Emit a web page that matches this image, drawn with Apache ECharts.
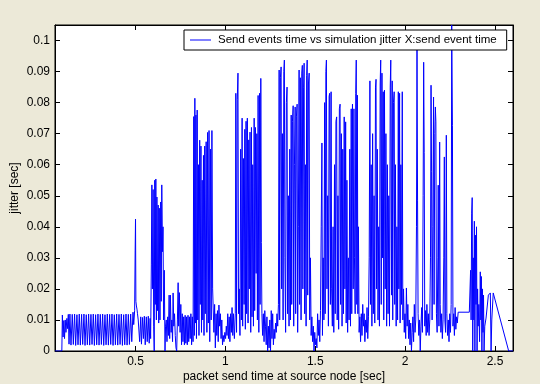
<!DOCTYPE html>
<html lang="en">
<head>
<meta charset="UTF-8">
<title>jitter</title>
<script src="https://cdn.jsdelivr.net/npm/echarts@6/dist/echarts.min.js"></script>
<style>
  html, body { margin: 0; padding: 0; background: #ece9d8; }
  #main { width: 540px; height: 384px; }
</style>
</head>
<body>
<div id="main"></div>
<script>
// tick labels
var xTicks = [0.5, 1, 1.5, 2, 2.5];
var yTicks = [0, 0.01, 0.02, 0.03, 0.04, 0.05, 0.06, 0.07, 0.08, 0.09, 0.1];
var seriesName = 'Send events time vs simulation jitter X:send event time';

// [send time, jitter], one stretch at a time
var idle = [[0.052, 0], [0.090, 0]];
var rampUp = [
  [0.093, 0.0116], [0.097, 0.0045], [0.101, 0.0098], [0.105, 0.0040], [0.109, 0.0100],
  [0.113, 0.0060], [0.118, 0.0105], [0.122, 0.0072], [0.126, 0.0118], [0.130, 0.0022]
];
var steady = [
  [0.135, 0.0119], [0.141, 0.0019], [0.148, 0.0118], [0.154, 0.0021], [0.161, 0.0119],
  [0.167, 0.0018], [0.174, 0.0117], [0.180, 0.0020], [0.187, 0.0119], [0.193, 0.0019],
  [0.200, 0.0118], [0.206, 0.0021], [0.213, 0.0119], [0.219, 0.0018], [0.226, 0.0117],
  [0.232, 0.0020], [0.239, 0.0119], [0.245, 0.0019], [0.252, 0.0118], [0.258, 0.0021],
  [0.265, 0.0119], [0.271, 0.0018], [0.278, 0.0117], [0.284, 0.0020], [0.291, 0.0119],
  [0.297, 0.0019], [0.304, 0.0118], [0.310, 0.0021], [0.317, 0.0119], [0.323, 0.0018],
  [0.330, 0.0117], [0.336, 0.0020], [0.343, 0.0119], [0.349, 0.0019], [0.356, 0.0118],
  [0.362, 0.0021], [0.369, 0.0119], [0.375, 0.0018], [0.382, 0.0117], [0.388, 0.0020],
  [0.395, 0.0119], [0.401, 0.0019], [0.408, 0.0118], [0.414, 0.0021], [0.421, 0.0119],
  [0.427, 0.0018], [0.434, 0.0117], [0.440, 0.0020], [0.447, 0.0119], [0.453, 0.0019],
  [0.460, 0.0118], [0.466, 0.0021], [0.473, 0.0119], [0.479, 0.0030], [0.486, 0.0125],
  [0.490, 0.0085]
];
var firstSpike = [
  [0.495, 0.0130], [0.498, 0.0325], [0.500, 0.0425], [0.502, 0.0160], [0.505, 0.0145],
  [0.508, 0.0135], [0.511, 0.0120], [0.515, 0.0100], [0.519, 0.0105], [0.523, 0.0030],
  [0.529, 0.0110], [0.533, 0.0022], [0.539, 0.0108], [0.544, 0.0040], [0.549, 0.0112],
  [0.554, 0.0020], [0.560, 0.0110], [0.565, 0.0030], [0.571, 0.0112], [0.576, 0.0025],
  [0.581, 0.0105]
];
var burstA = [
  [0.584, 0.0040], [0.588, 0.0280], [0.591, 0.0535], [0.594, 0.0200], [0.598, 0.0520],
  [0.601, 0.0080], [0.604, 0.0000], [0.607, 0.0550], [0.610, 0.0150], [0.613, 0.0554],
  [0.616, 0.0100], [0.619, 0.0496], [0.622, 0.0130], [0.626, 0.0470], [0.629, 0.0090],
  [0.632, 0.0460], [0.636, 0.0100], [0.640, 0.0480], [0.643, 0.0160], [0.646, 0.0535],
  [0.650, 0.0320], [0.653, 0.0400], [0.656, 0.0100], [0.660, 0.0260], [0.664, 0.0000],
  [0.667, 0.0080]
];
var lullA = [
  [0.671, 0.0100], [0.675, 0.0030], [0.679, 0.0110], [0.683, 0.0050], [0.687, 0.0180],
  [0.690, 0.0040], [0.694, 0.0180], [0.698, 0.0060], [0.702, 0.0100], [0.706, 0.0030],
  [0.709, 0.0187], [0.713, 0.0080], [0.717, 0.0120], [0.721, 0.0050], [0.725, 0.0010],
  [0.729, 0.0000], [0.733, 0.0100], [0.737, 0.0220], [0.740, 0.0080], [0.744, 0.0188],
  [0.748, 0.0060], [0.752, 0.0150], [0.756, 0.0020], [0.760, 0.0120], [0.764, 0.0030],
  [0.768, 0.0110], [0.772, 0.0020], [0.776, 0.0115], [0.780, 0.0025], [0.784, 0.0110],
  [0.788, 0.0020], [0.792, 0.0115], [0.796, 0.0030], [0.800, 0.0110], [0.804, 0.0040],
  [0.808, 0.0120], [0.812, 0.0020]
];
var burstB = [
  [0.816, 0.0110], [0.820, 0.0030], [0.824, 0.0755], [0.827, 0.0050], [0.830, 0.0814],
  [0.833, 0.0090], [0.836, 0.0760], [0.839, 0.0040], [0.843, 0.0776], [0.846, 0.0100],
  [0.850, 0.0600], [0.853, 0.0050], [0.857, 0.0679], [0.860, 0.0150], [0.864, 0.0660],
  [0.867, 0.0060], [0.871, 0.0550], [0.874, 0.0100], [0.878, 0.0630], [0.881, 0.0050],
  [0.885, 0.0660], [0.888, 0.0120], [0.893, 0.0674], [0.897, 0.0060], [0.901, 0.0704],
  [0.905, 0.0090], [0.909, 0.0710], [0.913, 0.0030], [0.917, 0.0650], [0.921, 0.0100],
  [0.925, 0.0710], [0.929, 0.0200]
];
var lullB = [
  [0.932, 0.0200], [0.936, 0.0060], [0.940, 0.0150], [0.944, 0.0010], [0.948, 0.0120],
  [0.952, 0.0050], [0.956, 0.0130], [0.960, 0.0030], [0.964, 0.0148], [0.968, 0.0080],
  [0.972, 0.0120], [0.976, 0.0040], [0.980, 0.0100], [0.984, 0.0020], [0.988, 0.0050],
  [0.992, 0.0030], [0.997, 0.0060], [1.001, 0.0040], [1.005, 0.0080], [1.009, 0.0050],
  [1.013, 0.0120], [1.017, 0.0040], [1.021, 0.0110], [1.025, 0.0030], [1.029, 0.0120],
  [1.033, 0.0060], [1.037, 0.0140], [1.041, 0.0050], [1.045, 0.0120]
];
var burstC = [
  [1.050, 0.0040], [1.055, 0.0120], [1.058, 0.0830], [1.062, 0.0060], [1.066, 0.0810],
  [1.070, 0.0895], [1.073, 0.0120], [1.077, 0.0200], [1.081, 0.0050], [1.085, 0.0650],
  [1.089, 0.0100], [1.093, 0.0750], [1.096, 0.0080], [1.100, 0.0620], [1.104, 0.0150],
  [1.108, 0.0714], [1.111, 0.0070], [1.115, 0.0740], [1.118, 0.0120], [1.122, 0.0750],
  [1.126, 0.0090], [1.130, 0.0680], [1.133, 0.0200], [1.137, 0.0705], [1.141, 0.0060],
  [1.145, 0.0720], [1.148, 0.0110], [1.152, 0.0600], [1.156, 0.0080], [1.160, 0.0750],
  [1.163, 0.0130], [1.167, 0.0720], [1.171, 0.0250], [1.175, 0.0700], [1.178, 0.0100],
  [1.182, 0.0823], [1.186, 0.0060], [1.190, 0.0830], [1.193, 0.0150], [1.197, 0.0878],
  [1.200, 0.0350], [1.203, 0.0120]
];
var lullC = [
  [1.207, 0.0050], [1.211, 0.0120], [1.215, 0.0030], [1.219, 0.0130], [1.223, 0.0080],
  [1.227, 0.0020], [1.231, 0.0110], [1.235, 0.0000], [1.239, 0.0080], [1.243, 0.0010],
  [1.247, 0.0100], [1.251, 0.0000], [1.255, 0.0130], [1.259, 0.0040], [1.263, 0.0120],
  [1.267, 0.0020], [1.271, 0.0070], [1.275, 0.0040], [1.279, 0.0090], [1.283, 0.0060],
  [1.287, 0.0120], [1.291, 0.0080]
];
var burstD = [
  [1.295, 0.0150], [1.299, 0.0905], [1.302, 0.0100], [1.306, 0.0880], [1.310, 0.0915],
  [1.313, 0.0200], [1.317, 0.0700], [1.321, 0.0100], [1.325, 0.0900], [1.328, 0.0937],
  [1.331, 0.0300], [1.335, 0.0060], [1.339, 0.0800], [1.343, 0.0850], [1.346, 0.0120],
  [1.350, 0.0500], [1.354, 0.0080], [1.358, 0.0650], [1.362, 0.0100], [1.366, 0.0760],
  [1.369, 0.0150], [1.373, 0.0740], [1.377, 0.0790], [1.380, 0.0080], [1.384, 0.0600],
  [1.388, 0.0786], [1.391, 0.0120], [1.395, 0.0754], [1.399, 0.0795], [1.402, 0.0060],
  [1.406, 0.0400], [1.410, 0.0905], [1.413, 0.0150], [1.417, 0.0880], [1.421, 0.0100],
  [1.425, 0.0895], [1.428, 0.0920], [1.431, 0.0200], [1.435, 0.0850], [1.438, 0.0927],
  [1.441, 0.0120], [1.445, 0.0600], [1.449, 0.0080], [1.452, 0.0888], [1.455, 0.0937],
  [1.458, 0.0180], [1.462, 0.0860], [1.466, 0.0895], [1.469, 0.0100], [1.473, 0.0300],
  [1.477, 0.0050]
];
var lullD = [
  [1.481, 0.0110], [1.485, 0.0030], [1.489, 0.0080], [1.493, 0.0000], [1.497, 0.0060],
  [1.501, 0.0020], [1.505, 0.0040], [1.509, 0.0010], [1.513, 0.0120], [1.517, 0.0050],
  [1.521, 0.0100], [1.525, 0.0030], [1.529, 0.0130]
];
var burstE = [
  [1.533, 0.0400], [1.537, 0.0670], [1.540, 0.0050], [1.544, 0.0300], [1.548, 0.0100],
  [1.552, 0.0800], [1.555, 0.0120], [1.559, 0.0900], [1.562, 0.0937], [1.565, 0.0200],
  [1.569, 0.0500], [1.573, 0.0080], [1.577, 0.0820], [1.580, 0.0830], [1.584, 0.0150],
  [1.588, 0.0835], [1.591, 0.0200], [1.595, 0.0080], [1.599, 0.0400], [1.603, 0.0060],
  [1.607, 0.0600], [1.611, 0.0120], [1.615, 0.0740], [1.619, 0.0754], [1.622, 0.0100],
  [1.626, 0.0500], [1.630, 0.0070], [1.634, 0.0780], [1.638, 0.0795], [1.641, 0.0150],
  [1.645, 0.0700], [1.649, 0.0080], [1.653, 0.0650], [1.657, 0.0120], [1.661, 0.0754],
  [1.665, 0.0200], [1.669, 0.0738], [1.672, 0.0090], [1.676, 0.0550], [1.680, 0.0060],
  [1.684, 0.0300], [1.688, 0.0100], [1.692, 0.0650], [1.696, 0.0080], [1.700, 0.0780],
  [1.703, 0.0120], [1.707, 0.0795], [1.711, 0.0200], [1.715, 0.0780], [1.718, 0.0300],
  [1.722, 0.0120], [1.725, 0.0830], [1.728, 0.0937], [1.731, 0.0150], [1.734, 0.0824],
  [1.737, 0.0120], [1.740, 0.0400], [1.744, 0.0060]
];
var lullE = [
  [1.748, 0.0110], [1.752, 0.0030], [1.756, 0.0120], [1.760, 0.0050], [1.764, 0.0150],
  [1.768, 0.0080], [1.772, 0.0120], [1.776, 0.0030], [1.780, 0.0100], [1.784, 0.0060],
  [1.788, 0.0140], [1.792, 0.0040], [1.796, 0.0110]
];
var burstF = [
  [1.800, 0.0300], [1.804, 0.0870], [1.807, 0.0150], [1.811, 0.0600], [1.815, 0.0080],
  [1.819, 0.0700], [1.823, 0.0120], [1.827, 0.0500], [1.831, 0.0090], [1.835, 0.0850],
  [1.838, 0.0875], [1.841, 0.0200], [1.845, 0.0650], [1.849, 0.0100], [1.853, 0.0400],
  [1.857, 0.0080], [1.861, 0.0860], [1.864, 0.0937], [1.867, 0.0150], [1.871, 0.0895],
  [1.874, 0.0300], [1.878, 0.0835], [1.881, 0.0100], [1.885, 0.0840], [1.889, 0.0200],
  [1.893, 0.0700], [1.897, 0.0080], [1.901, 0.0600], [1.905, 0.0120], [1.909, 0.0500],
  [1.913, 0.0080], [1.917, 0.0850], [1.920, 0.0937], [1.924, 0.0180], [1.928, 0.0870],
  [1.931, 0.0100], [1.935, 0.0800], [1.939, 0.0835], [1.942, 0.0150], [1.946, 0.0600],
  [1.950, 0.0080], [1.954, 0.0400], [1.958, 0.0100], [1.962, 0.0835], [1.965, 0.0200],
  [1.969, 0.0830], [1.972, 0.0090], [1.976, 0.0600], [1.980, 0.0150], [1.984, 0.0835],
  [1.987, 0.0100]
];
var lullF = [
  [1.991, 0.0200], [1.995, 0.0060], [1.999, 0.0120], [2.003, 0.0040], [2.007, 0.0203],
  [2.011, 0.0080], [2.015, 0.0150], [2.019, 0.0040], [2.023, 0.0100], [2.027, 0.0020],
  [2.031, 0.0090], [2.035, 0.0000], [2.039, 0.0060]
];
var burstG = [
  [2.043, 0.0110], [2.047, 0.0030], [2.051, 0.0150], [2.055, 0.0060], [2.059, 0.0100],
  [2.063, 0.0400], [2.066, 0.0970], [2.069, 0.0486], [2.072, 0.0120], [2.076, 0.0050],
  [2.080, 0.0100], [2.084, 0.0000], [2.088, 0.0080], [2.092, 0.0140], [2.096, 0.0060],
  [2.100, 0.0500], [2.103, 0.0930], [2.106, 0.0640], [2.109, 0.0080], [2.113, 0.0130],
  [2.117, 0.0050], [2.121, 0.0150], [2.125, 0.0060], [2.129, 0.0120], [2.133, 0.0050],
  [2.137, 0.0100], [2.141, 0.0300], [2.144, 0.0856], [2.147, 0.0577], [2.150, 0.0100],
  [2.154, 0.0400], [2.158, 0.0818], [2.161, 0.0150], [2.165, 0.0700], [2.168, 0.0786],
  [2.171, 0.0738], [2.174, 0.0120], [2.178, 0.0060], [2.182, 0.0300], [2.184, 0.0534],
  [2.188, 0.0080], [2.192, 0.0673], [2.195, 0.0150], [2.199, 0.0060], [2.203, 0.0120],
  [2.207, 0.0040], [2.211, 0.0100], [2.215, 0.0300], [2.218, 0.0625], [2.221, 0.0100],
  [2.225, 0.0060], [2.229, 0.0695], [2.232, 0.0120], [2.236, 0.0050], [2.240, 0.0100],
  [2.244, 0.0030], [2.248, 0.0120], [2.252, 0.0060], [2.256, 0.0150], [2.259, 0.1050],
  [2.263, 0.0727], [2.266, 0.0080], [2.270, 0.0120], [2.274, 0.0050]
];
var plateau = [
  [2.278, 0.0140], [2.282, 0.0070], [2.286, 0.0110], [2.290, 0.0090], [2.295, 0.0125],
  [2.300, 0.0125], [2.357, 0.0125]
];
var tail = [
  [2.360, 0.0125], [2.364, 0.0260], [2.367, 0.0100], [2.370, 0.0444], [2.373, 0.0494],
  [2.376, 0.0000], [2.379, 0.0300], [2.382, 0.0100], [2.385, 0.0418], [2.388, 0.0000],
  [2.391, 0.0373], [2.394, 0.0150], [2.397, 0.0400], [2.400, 0.0000], [2.403, 0.0200],
  [2.406, 0.0080], [2.410, 0.0150], [2.414, 0.0030], [2.418, 0.0255], [2.421, 0.0100],
  [2.424, 0.0240], [2.427, 0.0000], [2.430, 0.0200], [2.433, 0.0060], [2.436, 0.0180],
  [2.439, 0.0000], [2.443, 0.0080], [2.450, 0.0106], [2.463, 0.0180], [2.474, 0.0187],
  [2.478, 0.0000], [2.482, 0.0100], [2.490, 0.0187], [2.576, 0.0000], [2.600, 0.0000]
];

var points = idle.concat(rampUp, steady, firstSpike, burstA, lullA, burstB, lullB,
  burstC, lullC, burstD, lullD, burstE, lullE, burstF, lullF, burstG, plateau, tail);

var myChart = echarts.init(document.getElementById('main'));
var font = '"Liberation Sans", Arial, sans-serif';
var black = '#000';

function xAxisOf(pos) {
  var bottom = pos === 'bottom';
  return {
    type: 'value', position: pos, min: 0.052, max: 2.6,
    name: bottom ? 'packet send time at source node [sec]' : '',
    nameLocation: 'middle', nameGap: 20, nameMoveOverlap: false,
    nameTextStyle: { fontSize: 12, color: black, fontFamily: font },
    axisLine: { show: true, onZero: false, lineStyle: { color: black, width: 1 } },
    axisTick: { show: true, inside: true, length: 5, customValues: xTicks, lineStyle: { color: black } },
    axisLabel: { show: bottom, customValues: xTicks, margin: 5, fontSize: 12, color: black, fontFamily: font },
    splitLine: { show: false }
  };
}
function yAxisOf(pos) {
  var left = pos === 'left';
  return {
    type: 'value', position: pos, min: 0, max: 0.105,
    name: left ? 'jitter [sec]' : '',
    nameLocation: 'middle', nameGap: 34, nameMoveOverlap: false,
    nameTextStyle: { fontSize: 12, color: black, fontFamily: font },
    axisLine: { show: true, onZero: false, lineStyle: { color: black, width: 1 } },
    axisTick: { show: true, inside: true, length: 5, customValues: yTicks, lineStyle: { color: black } },
    axisLabel: { show: left, customValues: yTicks, margin: 5, fontSize: 12, color: black, fontFamily: font },
    splitLine: { show: false }
  };
}

var option = {
  backgroundColor: '#ece9d8',
  animation: false,
  textStyle: { fontFamily: font },
  grid: {
    left: 55, right: 27, top: 25, bottom: 33,
    containLabel: false, outerBoundsMode: 'none',
    show: true, backgroundColor: '#fff', borderColor: black, borderWidth: 1
  },
  legend: {
    left: 184, top: 30,
    padding: [4, 10, 4, 6],
    backgroundColor: '#fff', borderColor: black, borderWidth: 1, borderRadius: 0,
    itemWidth: 21, itemHeight: 1,
    textStyle: { fontSize: 11.5, color: black, fontFamily: font, padding: [0, 0, 0, 2] },
    data: [{ name: seriesName, icon: 'rect' }]
  },
  xAxis: [xAxisOf('bottom'), xAxisOf('top')],
  yAxis: [yAxisOf('left'), yAxisOf('right')],
  series: [{
    name: seriesName,
    type: 'line',
    data: points,
    symbol: 'none',
    showSymbol: false,
    lineStyle: { color: '#0000ff', width: 1 },
    itemStyle: { color: '#0000ff' }
  }]
};

myChart.setOption(option);
</script>
</body>
</html>
